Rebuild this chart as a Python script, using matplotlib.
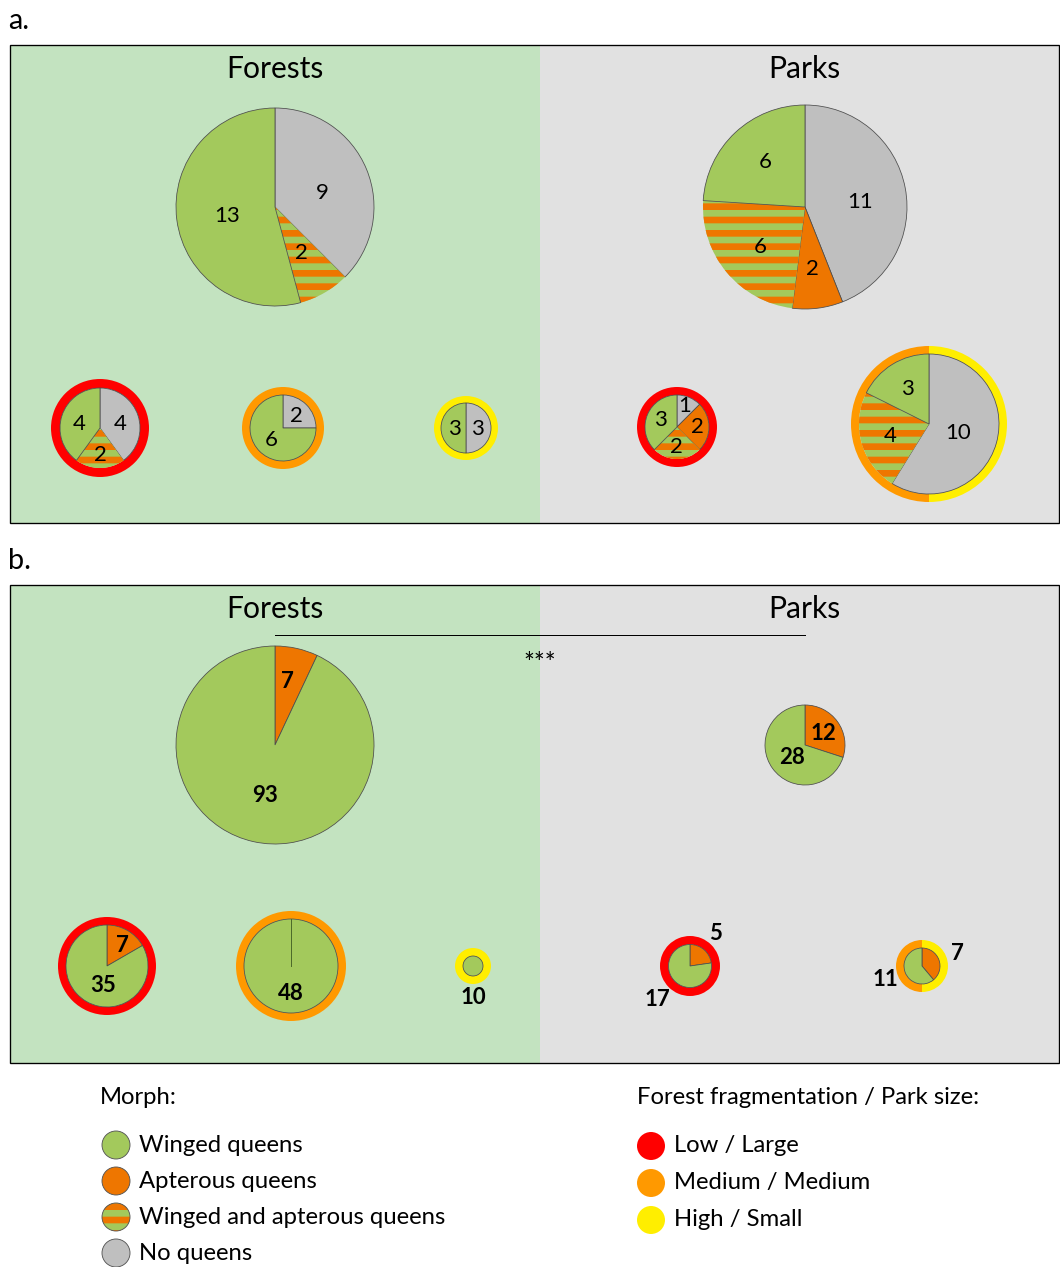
import matplotlib
matplotlib.use('Agg')
import numpy as np
import matplotlib.pyplot as plt
from matplotlib.patches import Rectangle, Circle

W, H = 1060, 1267
DPI = 80

plt.rcParams['font.family'] = ['Lato', 'DejaVu Sans']
plt.rcParams['hatch.linewidth'] = 6.0

GREEN = '#a3c95c'
APT = '#ee7600'
NONE = '#bfbfbf'
RED = '#ff0000'
ORANGE = '#ff9900'
YELLOW = '#ffee00'
BG_FOREST = '#c3e3c0'
BG_PARK = '#e1e1e1'

# morph order, clockwise from 12 o'clock
morph_keys = ['none', 'apterous', 'mixed', 'winged']
morph_cols = [NONE, APT, GREEN, GREEN]

# panel a: number of sites per morph [none, apterous, mixed, winged]
a_forest_all = [9, 0, 2, 13]
a_park_all = [11, 2, 6, 6]
a_forest_low = [4, 0, 2, 4]
a_forest_med = [2, 0, 0, 6]
a_forest_high = [3, 0, 0, 3]
a_park_large = [1, 2, 2, 3]
a_park_medsmall = [10, 0, 4, 3]

# panel b: number of queens [none, apterous, mixed, winged]
b_forest_all = [0, 7, 0, 93]
b_park_all = [0, 12, 0, 28]
b_forest_low = [0, 7, 0, 35]
b_forest_med = [0, 0, 0, 48]
b_forest_high = [0, 0, 0, 10]
b_park_large = [0, 5, 0, 17]
b_park_medsmall = [0, 7, 0, 11]

morph_labels = ['Winged queens', 'Apterous queens', 'Winged and apterous queens', 'No queens']
frag_labels = ['Low / Large', 'Medium / Medium', 'High / Small']


def Y(py):
    return H - py


fig = plt.figure(figsize=(W / DPI, H / DPI), dpi=DPI)
ax = fig.add_axes([0, 0, 1, 1])


def draw_pie(cx, cy, r, vals, labels, ring=None, ring_w=8, keep_zero=False, bold=False):
    if ring is not None:
        ax.pie([1] * len(ring), colors=ring, radius=r + ring_w, center=(cx, Y(cy)),
               startangle=90, counterclock=False, frame=True,
               wedgeprops=dict(width=ring_w, linewidth=0))
    keep = [i for i, v in enumerate(vals) if v > 0 or (keep_zero and morph_keys[i] == 'apterous')]
    wedges, _ = ax.pie([vals[i] for i in keep], colors=[morph_cols[i] for i in keep],
                       radius=r, center=(cx, Y(cy)), startangle=90, counterclock=False,
                       frame=True, wedgeprops=dict(edgecolor='#4d4d4d', linewidth=0.7))
    for w, i in zip(wedges, keep):
        if morph_keys[i] == 'mixed':
            w.set_edgecolor(APT)
            w.set_linewidth(0)
            w.set_hatch('-')
        if vals[i] == 0:
            # empty slice still shows its boundary
            th = np.deg2rad(w.theta2)
            x0, y0 = w.center
            ax.plot([x0, x0 + w.r * np.cos(th)], [y0, y0 + w.r * np.sin(th)],
                    color='#4d6b2a', linewidth=0.9)
    for i, (lx, ly) in labels.items():
        ax.text(lx, Y(ly), str(vals[i]), ha='center', va='center', fontsize=20,
                fontweight='bold' if bold else 'normal', color='black')


def draw_panel(top, letter):
    bottom = top + 478
    ax.add_patch(Rectangle((10, Y(bottom)), 530, 478, facecolor=BG_FOREST, edgecolor='none'))
    ax.add_patch(Rectangle((540, Y(bottom)), 519, 478, facecolor=BG_PARK, edgecolor='none'))
    ax.add_patch(Rectangle((10, Y(bottom)), 1049, 478, facecolor='none', edgecolor='black',
                           linewidth=1.2, zorder=5))
    ax.text(8, Y(top - 24), letter, fontsize=26, ha='left', va='center')
    ax.text(275, Y(top + 24), 'Forests', fontsize=27, ha='center', va='center')
    ax.text(804, Y(top + 24), 'Parks', fontsize=27, ha='center', va='center')


# ---- panel a ----
draw_panel(45, 'a.')
draw_pie(275, 207, 99, a_forest_all, {0: (322, 193), 2: (301, 253), 3: (227, 216)})
draw_pie(805, 207, 102, a_park_all, {0: (860, 202), 1: (812, 269), 2: (760, 247), 3: (765, 162)})
draw_pie(100, 428, 40, a_forest_low, {0: (120, 424), 2: (100, 455), 3: (79, 424)}, ring=[RED], ring_w=9)
draw_pie(283, 428, 33, a_forest_med, {0: (296, 416), 3: (271, 440)}, ring=[ORANGE])
draw_pie(466, 428, 25, a_forest_high, {0: (477, 429), 3: (454, 429)}, ring=[YELLOW], ring_w=7)
draw_pie(677, 427, 32, a_park_large, {0: (685, 406), 1: (697, 427), 2: (676, 447), 3: (660, 420)},
         ring=[RED])
draw_pie(929, 424, 70, a_park_medsmall, {0: (958, 433), 2: (890, 436), 3: (907, 389)},
         ring=[YELLOW, ORANGE])

# ---- panel b ----
draw_panel(585, 'b.')
ax.plot([275, 805], [Y(635), Y(635)], color='black', linewidth=0.9)
ax.text(540, Y(664), '***', fontsize=23, ha='center', va='center')
draw_pie(275, 745, 99, b_forest_all, {1: (287, 682), 3: (265, 796)}, bold=True)
draw_pie(805, 745, 40, b_park_all, {1: (823, 733), 3: (792, 758)}, bold=True)
draw_pie(107, 966, 41, b_forest_low, {1: (122, 945), 3: (103, 985)}, ring=[RED], bold=True)
draw_pie(291, 966, 47, b_forest_med, {3: (291, 993)}, ring=[ORANGE], keep_zero=True, bold=True)
draw_pie(473, 966, 10, b_forest_high, {3: (473, 998)}, ring=[YELLOW], bold=True)
draw_pie(690, 966, 21.5, b_park_large, {1: (715, 933), 3: (657, 1000)}, ring=[RED], ring_w=8.5, bold=True)
draw_pie(922, 966, 18, b_park_medsmall, {1: (957, 953), 3: (885, 979)}, ring=[YELLOW, ORANGE], bold=True)

# ---- legend ----
ax.text(100, Y(1097), 'Morph:', fontsize=21.5, ha='left', va='center')
morph_leg_cols = [GREEN, APT, 'mixed', NONE]
for k, (lab, col) in enumerate(zip(morph_labels, morph_leg_cols)):
    cy = Y(1145 + 36 * k)
    if col == 'mixed':
        ax.add_patch(Circle((116, cy), 14, facecolor=GREEN, edgecolor=APT, linewidth=0, hatch='-'))
        ax.add_patch(Circle((116, cy), 14, facecolor='none', edgecolor='#555555', linewidth=0.8))
    else:
        ax.add_patch(Circle((116, cy), 14, facecolor=col, edgecolor='#555555', linewidth=0.8))
    ax.text(139, cy, lab, fontsize=21.5, ha='left', va='center')

ax.text(637, Y(1098), 'Forest fragmentation / Park size:', fontsize=21.5, ha='left', va='center')
for k, (lab, col) in enumerate(zip(frag_labels, [RED, ORANGE, YELLOW])):
    cy = Y(1146 + 37 * k)
    ax.add_patch(Circle((651, cy), 14, facecolor=col, edgecolor='none'))
    ax.text(674, cy, lab, fontsize=21.5, ha='left', va='center')

ax.set_xlim(0, W)
ax.set_ylim(0, H)
ax.set_aspect('auto')
ax.axis('off')
fig.savefig('out.png', dpi=DPI, facecolor='white')
